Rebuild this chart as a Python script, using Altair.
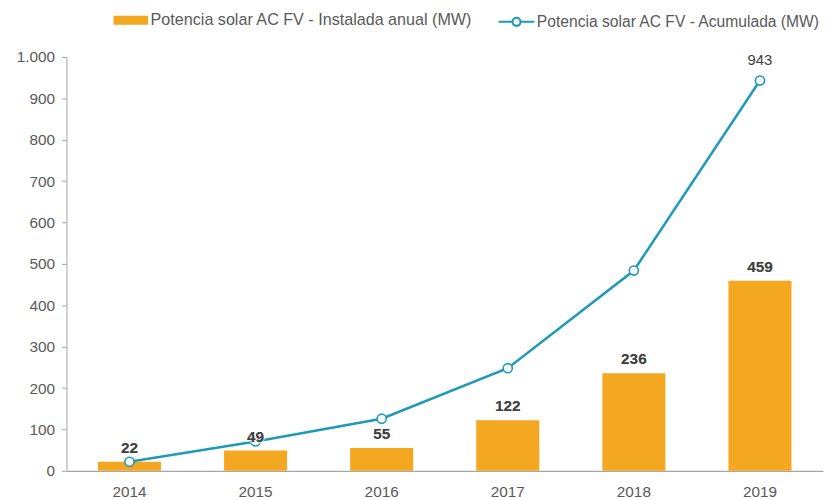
import altair as alt
import pandas as pd

years = ["2014", "2015", "2016", "2017", "2018", "2019"]
anual = [22, 49, 55, 122, 236, 459]
acumulada = [22, 71, 126, 248, 484, 943]
acum_labels = ["", "", "", "", "", "943"]

bar_name = "Potencia solar AC FV - Instalada anual (MW)"
line_name = "Potencia solar AC FV - Acumulada (MW)"

df = pd.DataFrame({
    "year": years,
    "anual": anual,
    "acum": acumulada,
    "acum_label": acum_labels,
    "bar_series": [bar_name] * len(years),
    "line_series": [line_name] * len(years),
})

ORANGE = "#F4A720"
TEAL = "#1E9AB8"
FONT = "Liberation Sans"

x = alt.X("year:N", title=None, sort=years,
          scale=alt.Scale(paddingInner=0.5, paddingOuter=0.25),
          axis=alt.Axis(labelAngle=0, labelFontSize=15.5, labelColor="#595959",
                        labelFont=FONT, ticks=False, domainColor="#a6a6a6",
                        domainWidth=1.5, labelPadding=14))

yscale = alt.Scale(domain=[0, 1000], nice=False)

base = alt.Chart(df)

bars = base.mark_bar(color=ORANGE).encode(
    x=x,
    y=alt.Y("anual:Q", title=None, scale=yscale,
            axis=alt.Axis(values=list(range(0, 1001, 100)), grid=False,
                          labelFontSize=15.5, labelColor="#595959", labelFont=FONT,
                          tickColor="#a6a6a6", domainColor="#a6a6a6", tickSize=5,
                          labelPadding=7,
                          labelExpr="replace(format(datum.value, ','), ',', '.')")),
    fill=alt.Fill("bar_series:N", title=None,
                  scale=alt.Scale(domain=[bar_name], range=[ORANGE]),
                  legend=alt.Legend(orient="none", legendX=54, legendY=-48,
                                    symbolType="M-1.6,-0.41H1.6V0.41H-1.6Z",
                                    symbolSize=479, symbolStrokeWidth=0,
                                    labelFontSize=16.3, labelColor="#595959",
                                    labelFont=FONT, labelOffset=9, labelLimit=0)),
)

line = base.mark_line(color=TEAL, strokeWidth=2.5).encode(
    x=alt.X("year:N", sort=years),
    y=alt.Y("acum:Q", scale=yscale),
)

points = base.mark_point(filled=True, fill="white", size=85, strokeWidth=1.6, opacity=1).encode(
    x=alt.X("year:N", sort=years),
    y=alt.Y("acum:Q", scale=yscale),
    stroke=alt.Stroke("line_series:N", title=None,
                      scale=alt.Scale(domain=[line_name], range=[TEAL]),
                      legend=alt.Legend(orient="none", legendX=442, legendY=-48,
                                        symbolType="M-1.65,0H-0.37A0.37,0.37 0 1,1 0.37,0A0.37,0.37 0 1,1 -0.37,0M0.37,0H1.65",
                                        symbolSize=479, symbolStrokeWidth=2.2,
                                        symbolFillColor="white",
                                        labelFontSize=15.8, labelColor="#595959",
                                        labelFont=FONT, labelOffset=8, labelLimit=0)),
)

bar_text = base.mark_text(baseline="bottom", dy=-6, fontSize=15.5, fontWeight="bold",
                          color="#404040", font=FONT,
                          stroke="white", strokeWidth=3, strokeOpacity=0.6).encode(
    x=alt.X("year:N", sort=years),
    y=alt.Y("anual:Q", scale=yscale),
    text=alt.Text("anual:Q"),
)

bar_text2 = base.mark_text(baseline="bottom", dy=-6, fontSize=15.5, fontWeight="bold",
                           color="#404040", font=FONT).encode(
    x=alt.X("year:N", sort=years),
    y=alt.Y("anual:Q", scale=yscale),
    text=alt.Text("anual:Q"),
)

line_text = base.mark_text(baseline="bottom", dy=-13, fontSize=15,
                           color="#404040", font=FONT).encode(
    x=alt.X("year:N", sort=years),
    y=alt.Y("acum:Q", scale=yscale),
    text="acum_label:N",
)

chart = alt.layer(bars, line, points, bar_text, bar_text2, line_text).resolve_scale(
    fill="independent", stroke="independent"
).properties(
    width=764, height=418,
    autosize=alt.AutoSizeParams(type="none"),
    padding={"left": 59, "top": 47, "right": 1, "bottom": 27},
).configure_view(stroke=None)

chart.save("out.html", embed_options={"renderer": "svg", "actions": False})
